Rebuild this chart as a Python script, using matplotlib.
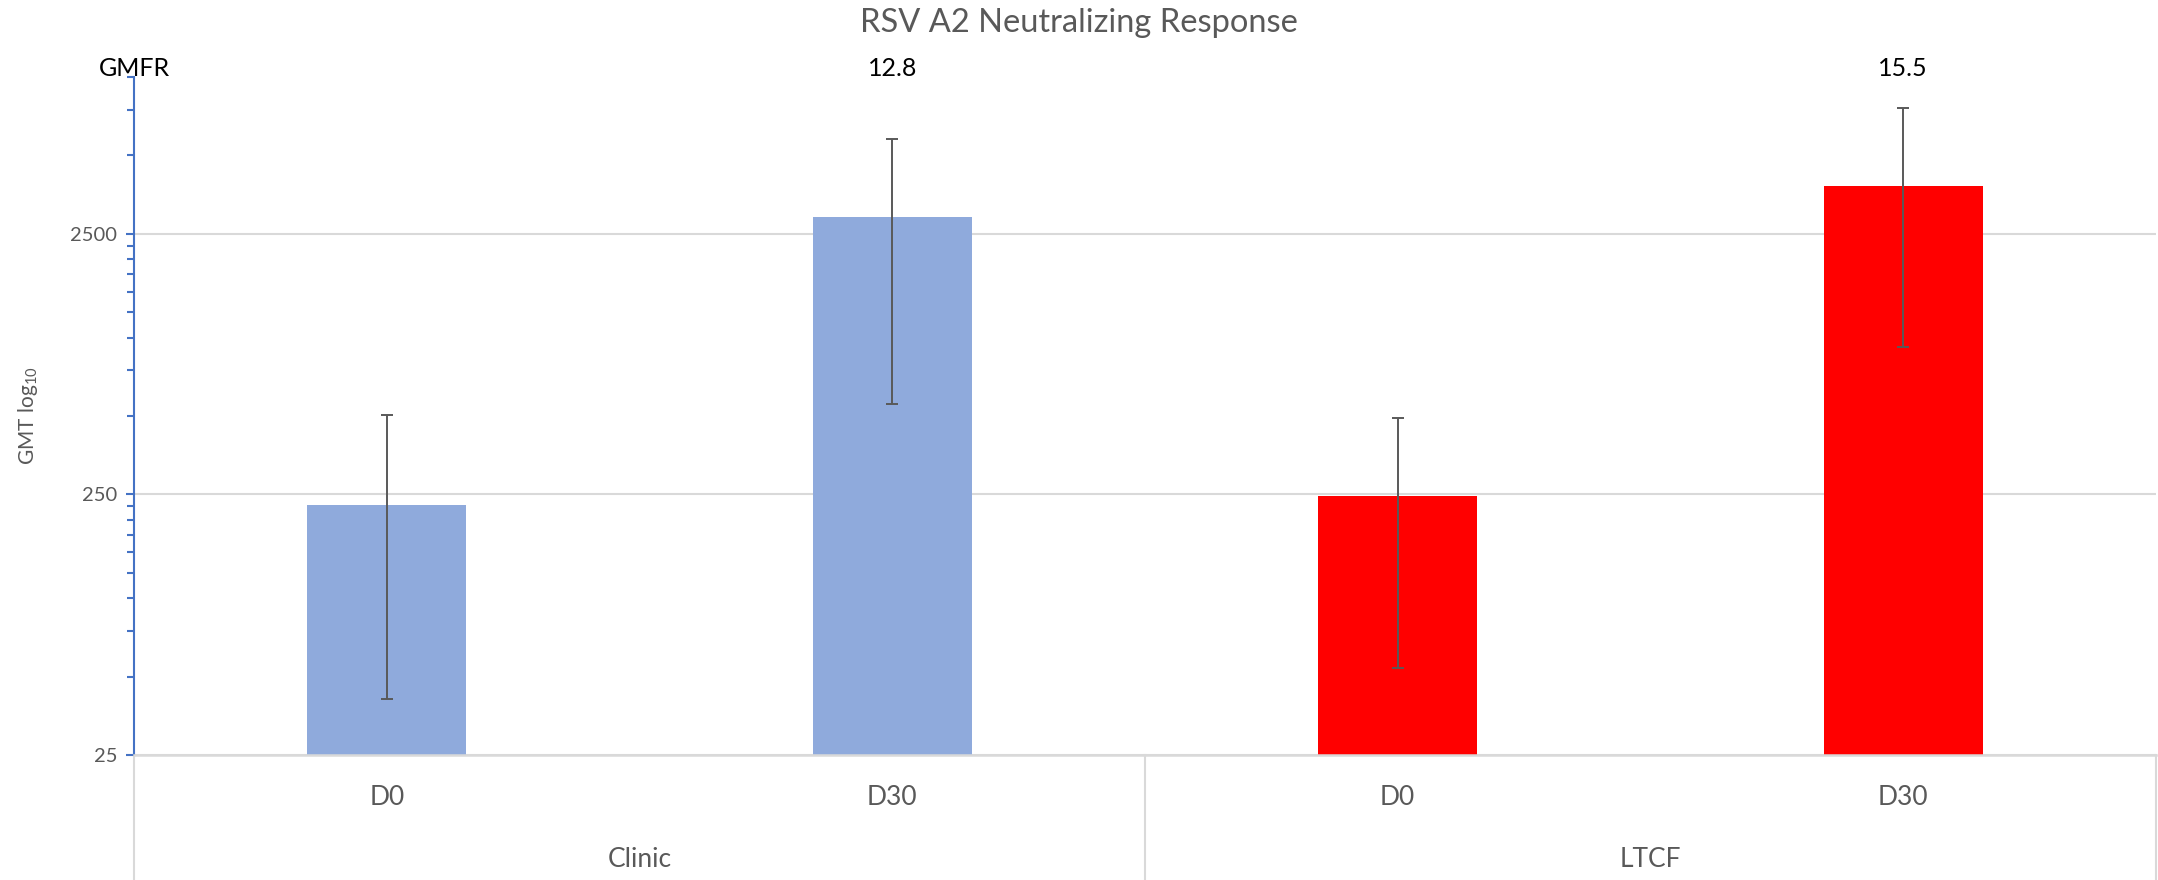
#!/usr/bin/env python3
import matplotlib
matplotlib.use('Agg')
import matplotlib.pyplot as plt
from matplotlib.ticker import FixedLocator, NullFormatter

# values
groups = ['Clinic', 'LTCF']
days = ['D0', 'D30', 'D0', 'D30']
gmt = [227, 2905, 246, 3818]
ci_low = [41, 558, 54, 922]
ci_high = [506, 5793, 493, 7625]
gmfr = ['', '12.8', '', '15.5']
bar_colors = ['#8FAADC', '#8FAADC', '#FF0000', '#FF0000']

W, H = 2158, 880
GREY = '#595959'
LINE = '#D9D9D9'


def draw(ax, fig):
    x = list(range(len(gmt)))
    yerr = [[g - lo for g, lo in zip(gmt, ci_low)],
            [hi - g for g, hi in zip(gmt, ci_high)]]

    ax.bar(x, gmt, width=0.315, color=bar_colors, zorder=2)
    ax.errorbar(x, gmt, yerr=yerr, fmt='none', ecolor=GREY,
                elinewidth=1.4, capsize=4.3, capthick=1.4, zorder=3)

    ax.set_yscale('log')
    ax.set_ylim(25, 10000)
    ax.set_xlim(-0.5, len(gmt) - 0.5)

    majors = [25, 250, 2500]
    minors = [25 * k * 10 ** n for n in range(3) for k in range(2, 10)]
    minors = [m for m in minors if m <= 10000]
    ax.yaxis.set_major_locator(FixedLocator(majors))
    ax.yaxis.set_minor_locator(FixedLocator(minors))
    ax.yaxis.set_minor_formatter(NullFormatter())
    ax.set_yticklabels([str(m) for m in majors])
    ax.tick_params(axis='y', which='major', length=6, width=1.5,
                   color='#4472C4', labelcolor=GREY, labelsize=14.5, pad=6)
    ax.tick_params(axis='y', which='minor', length=5, width=1.5,
                   color='#4472C4')
    ax.set_xticks([])

    ax.grid(True, axis='y', which='major', color=LINE, linewidth=1.5,
            zorder=0)
    ax.set_axisbelow(True)

    for side in ['top', 'right']:
        ax.spines[side].set_visible(False)
    ax.spines['left'].set_color('#4472C4')
    ax.spines['left'].set_linewidth(1.5)
    ax.spines['bottom'].set_color(LINE)
    ax.spines['bottom'].set_linewidth(1.8)

    tr = ax.get_xaxis_transform()
    axh = 755 - 77
    low = -(H - 755) / axh

    # two-level category axis
    for i, d in enumerate(days):
        ax.text(i, -42 / axh, d, transform=tr, ha='center', va='center',
                fontsize=19, color=GREY)
    for j, g in enumerate(groups):
        ax.text(2 * j + 0.5, -104 / axh, g, transform=tr, ha='center',
                va='center', fontsize=19, color=GREY)
    for xs in [-0.5, 1.5, 3.5]:
        ax.plot([xs, xs], [0, low], transform=tr, color=LINE,
                linewidth=1.5, clip_on=False)

    # GMFR row above the plot
    ax.text(-0.5, 1 + 1 / axh, 'GMFR', transform=tr, ha='center',
            va='baseline', fontsize=18, color='black')
    for i, v in enumerate(gmfr):
        if v:
            ax.text(i, 1 + 1 / axh, v, transform=tr, ha='center',
                    va='baseline', fontsize=18, color='black')

    fig.text(0.5, 1 - 23 / H, 'RSV A2 Neutralizing Response',
             ha='center', va='center', fontsize=23.5, color=GREY)
    fig.text(28 / W, 1 - 416 / H, r'GMT log$_{\mathrm{10}}$', rotation=90,
             ha='center', va='center', fontsize=15, color=GREY)


def main():
    plt.rcParams['font.family'] = ['Lato', 'DejaVu Sans']
    plt.rcParams['mathtext.fontset'] = 'custom'
    plt.rcParams['mathtext.rm'] = 'Lato'

    fig = plt.figure(figsize=(W / 100, H / 100), dpi=100)
    ax = fig.add_axes([134 / W, 1 - 755 / H, (2156 - 134) / W,
                       (755 - 77) / H])
    draw(ax, fig)
    fig.savefig('out.png', dpi=100)


if __name__ == '__main__':
    main()
